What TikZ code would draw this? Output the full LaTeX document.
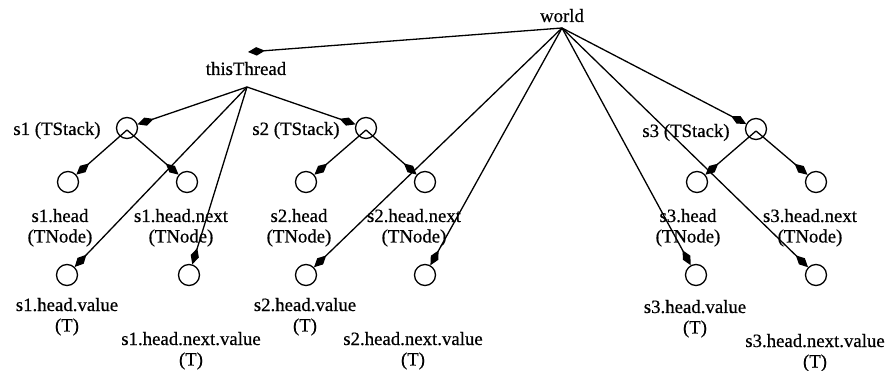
\documentclass[tikz,border=0pt]{standalone}
\usepackage{fontspec}
\setmainfont{Liberation Serif}[FakeBold=0.6]
\usetikzlibrary{arrows.meta}
\begin{document}
\begin{tikzpicture}[x=1pt,y=-1pt,
  obj/.style={circle,draw,line width=1.3pt,minimum size=21pt,inner sep=0pt},
  lbl/.style={font=\fontsize{18.8}{20.5}\selectfont,inner sep=0pt,align=center,anchor=base},
  link/.style={line width=1.3pt,-{Diamond[length=17pt,width=8.5pt]}}]
\useasboundingbox (0,0) rectangle (889,371);

% root names (base anchor = baseline of the last line)
\node[lbl] (world) at (562,22) {world};
\node[lbl] (thread) at (246,75) {thisThread};
\coordinate (W) at (562,28);
\coordinate (T) at (247,87);
\coordinate (Ttop) at (248,52);

% stacks
\node[obj] (s1) at (127,128) {};
\node[obj] (s2) at (366,128) {};
\node[obj] (s3) at (756,129) {};
\node[lbl] (s1l) at (57,135) {s1 (TStack)};
\node[lbl] (s2l) at (296,135) {s2 (TStack)};
\node[lbl] (s3l) at (686,137) {s3 (TStack)};

% list nodes
\node[obj] (h1) at (68,182) {};
\node[obj] (n1) at (187,182) {};
\node[obj] (h2) at (306,182) {};
\node[obj] (n2) at (425,182) {};
\node[obj] (h3) at (697,182) {};
\node[obj] (n3) at (816,182) {};
\node[lbl] (h1l) at (60,242.5) {s1.head\\(TNode)};
\node[lbl] (n1l) at (181,242.5) {s1.head.next\\(TNode)};
\node[lbl] (h2l) at (299,242.5) {s2.head\\(TNode)};
\node[lbl] (n2l) at (414,242.5) {s2.head.next\\(TNode)};
\node[lbl] (h3l) at (688,242.5) {s3.head\\(TNode)};
\node[lbl] (n3l) at (810,242.5) {s3.head.next\\(TNode)};

% values
\node[obj] (v1) at (67,275) {};
\node[obj] (w1) at (189,275) {};
\node[obj] (v2) at (306,275) {};
\node[obj] (w2) at (425,275) {};
\node[obj] (v3) at (696,275) {};
\node[obj] (w3) at (816,275) {};
\node[lbl] (v1l) at (67,331.5) {s1.head.value\\(T)};
\node[lbl] (w1l) at (191,365.5) {s1.head.next.value\\(T)};
\node[lbl] (v2l) at (305,331.5) {s2.head.value\\(T)};
\node[lbl] (w2l) at (413,365.5) {s2.head.next.value\\(T)};
\node[lbl] (v3l) at (695,333.5) {s3.head.value\\(T)};
\node[lbl] (w3l) at (815,367.5) {s3.head.next.value\\(T)};

% references from world
\draw[link] (W) -- (Ttop);
\draw[link] (W) -- (s3);
\draw[link] (W) -- (v2);
\draw[link] (W) -- (w2);
\draw[link] (W) -- (v3);
\draw[link] (W) -- (w3);

% references from thisThread
\draw[link] (T) -- (s1);
\draw[link] (T) -- (s2);
\draw[link] (T) -- (v1);
\draw[link] (T) -- (w1);

% stack to head / head.next
\foreach \s/\h/\n in {s1/h1/n1, s2/h2/n2, s3/h3/n3}{
  \draw[link] ([yshift=-2pt]\s.center) -- (\h);
  \draw[link] ([yshift=-2pt]\s.center) -- (\n);
}
\end{tikzpicture}
\end{document}
